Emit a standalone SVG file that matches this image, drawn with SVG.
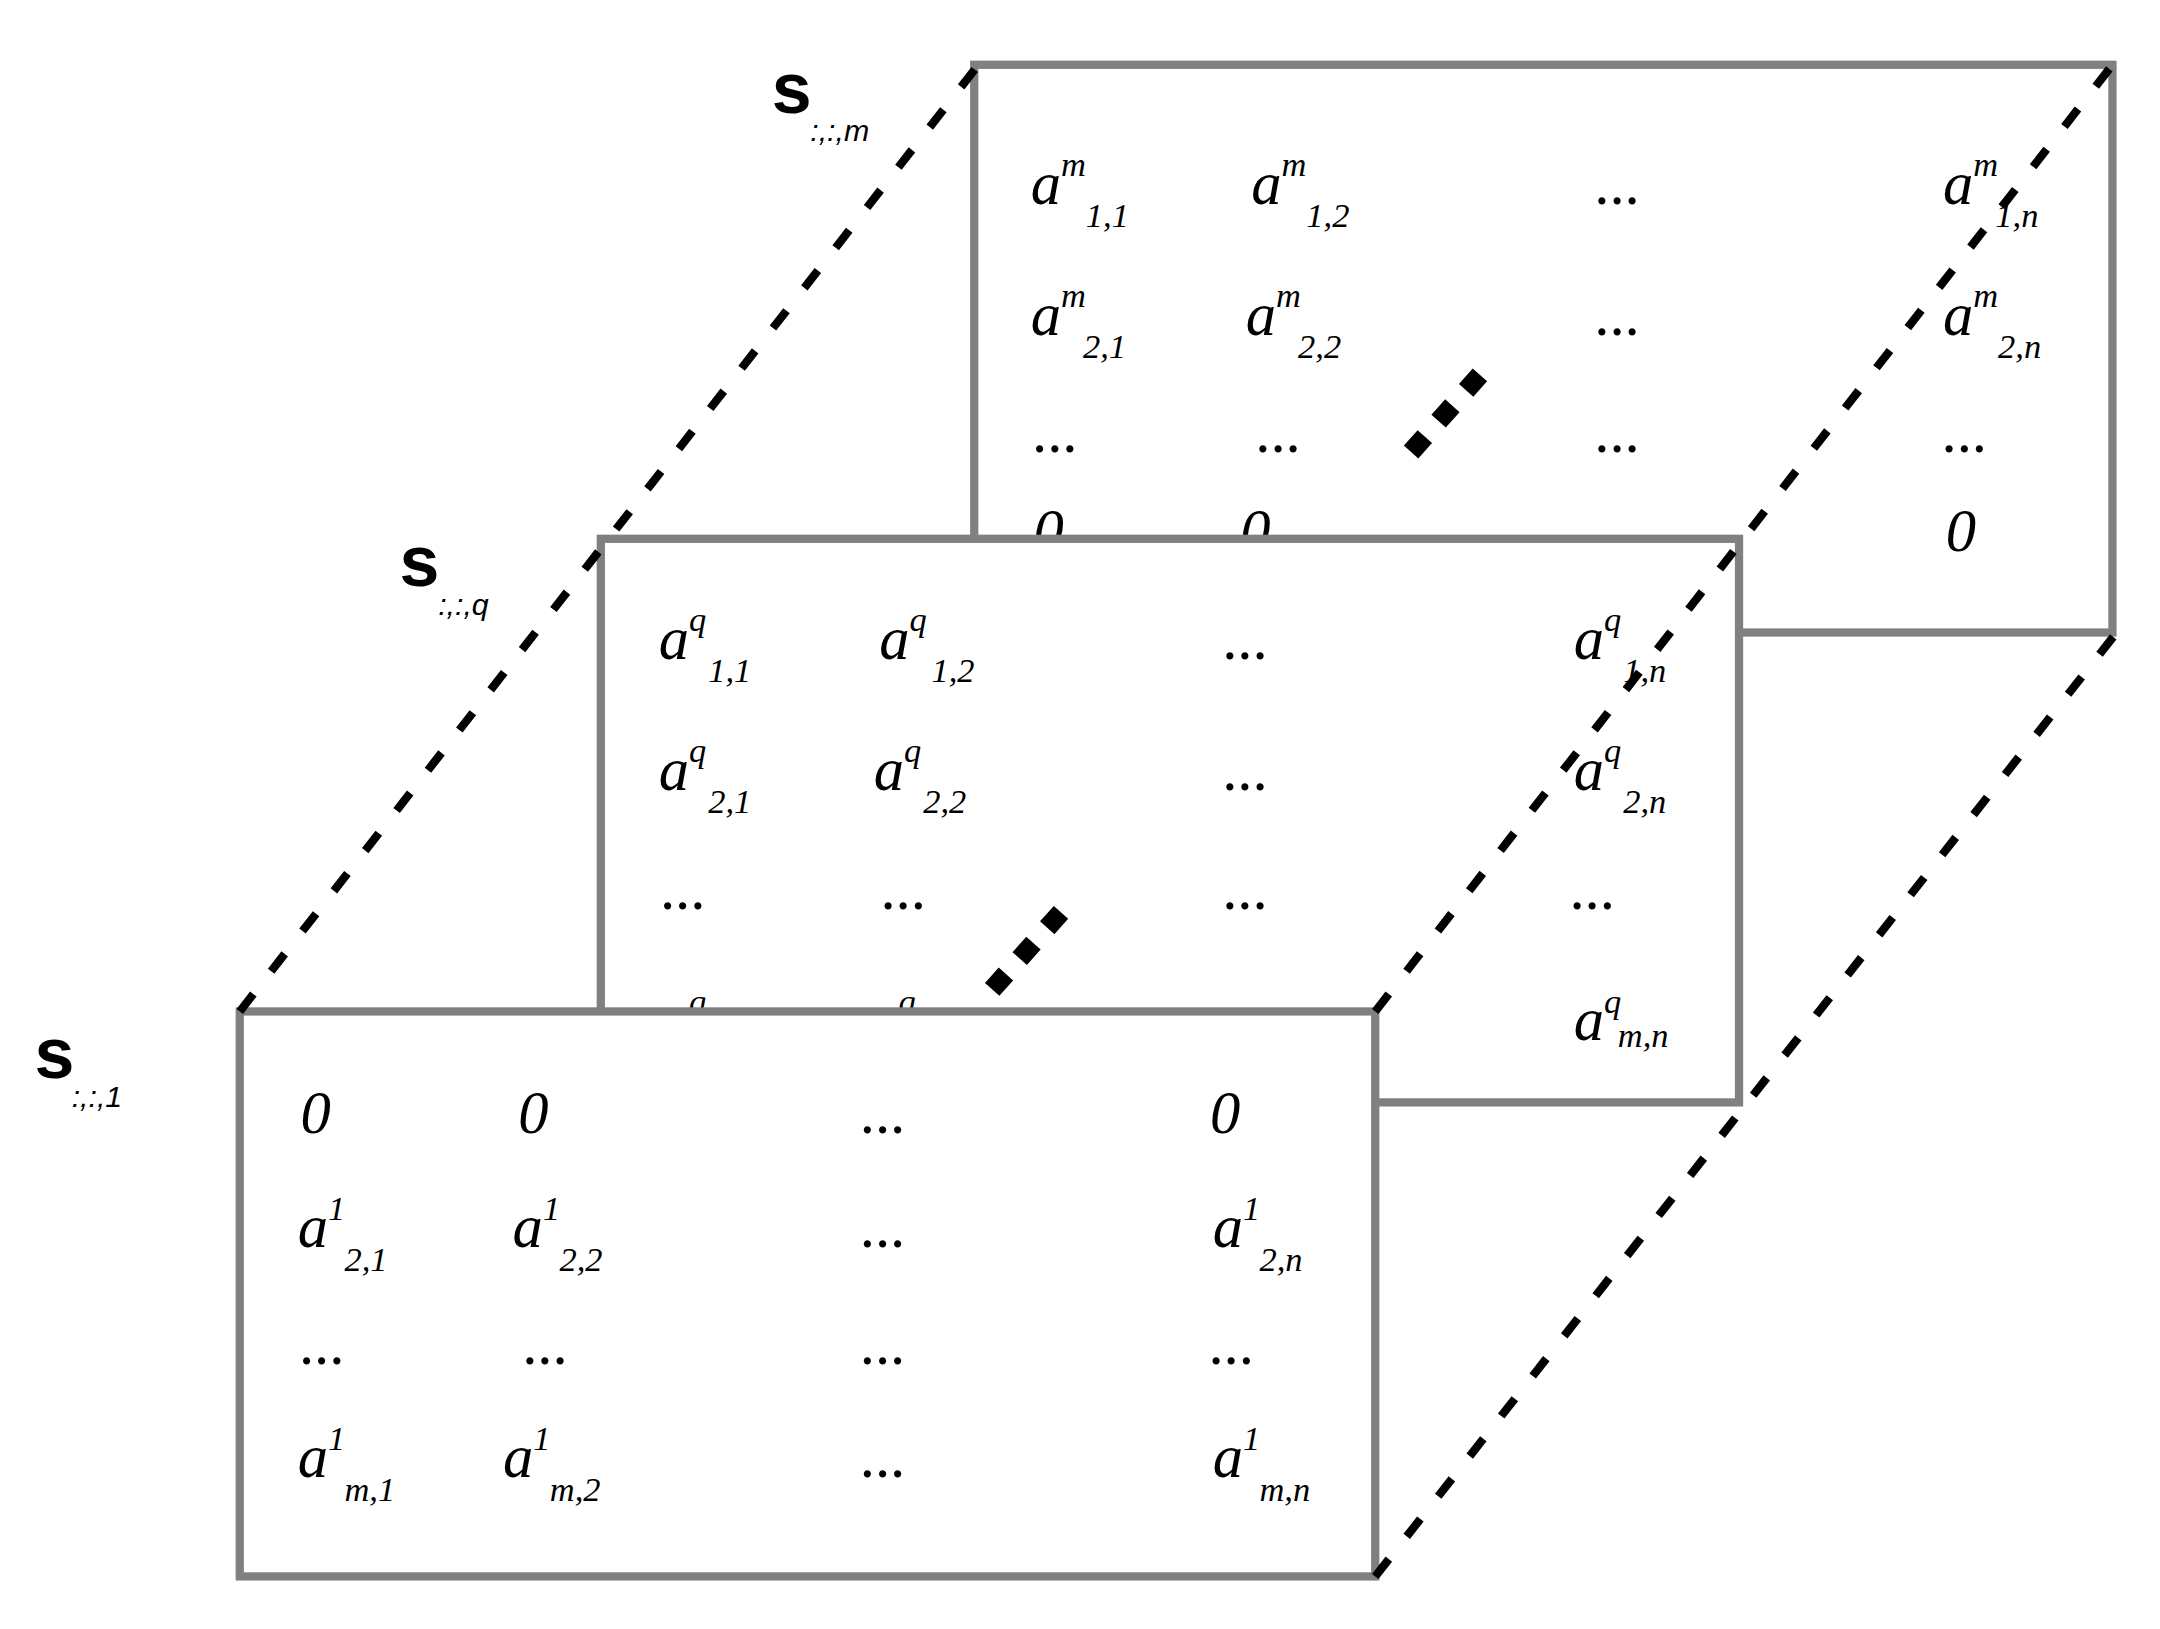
<svg xmlns="http://www.w3.org/2000/svg" width="2160" height="1629" viewBox="0 0 2160 1629">
<style>
.box{fill:#fff;stroke:#808080;stroke-width:6}
.d{stroke:#000;stroke-width:6;stroke-dasharray:16 21;fill:none}
.dd{stroke:#000;stroke-width:14;stroke-dasharray:15 15;fill:none}
text{font-family:"Liberation Serif","Times New Roman",serif;font-style:italic;fill:#000}
.a{font-size:44px}
.s{font-size:25px}
.lb{font-family:"Liberation Sans",Arial,sans-serif;font-style:normal;font-weight:bold;font-size:52px}
.ls{font-family:"Liberation Sans",Arial,sans-serif;font-size:22px}
</style>
<rect width="2160" height="1629" fill="#fff"/>
<g transform="scale(1.378)">
<g id="slice-m">
<rect class="box" x="707" y="47" width="826" height="412"/>
<text class="a" x="748" y="148">a</text><text class="s" x="770" y="128">m</text><text class="s" x="788" y="165">1,1</text>
<text class="a" x="908" y="148">a</text><text class="s" x="930" y="128">m</text><text class="s" x="948" y="165">1,2</text>
<text class="a" x="1158" y="148">...</text>
<text class="a" x="1410" y="148">a</text><text class="s" x="1432" y="128">m</text><text class="s" x="1448" y="165">1,n</text>
<text class="a" x="748" y="243">a</text><text class="s" x="770" y="223">m</text><text class="s" x="786" y="260">2,1</text>
<text class="a" x="904" y="243">a</text><text class="s" x="926" y="223">m</text><text class="s" x="942" y="260">2,2</text>
<text class="a" x="1158" y="243">...</text>
<text class="a" x="1410" y="243">a</text><text class="s" x="1432" y="223">m</text><text class="s" x="1450" y="260">2,n</text>
<text class="a" x="750" y="328">...</text><text class="a" x="912" y="328">...</text><text class="a" x="1158" y="328">...</text><text class="a" x="1410" y="328">...</text>
<text class="a" x="750" y="400">0</text><text class="a" x="900" y="400">0</text><text class="a" x="1412" y="400">0</text>
</g>
<g id="slice-q">
<rect class="box" x="436" y="391" width="826" height="409"/>
<text class="a" x="478" y="478">a</text><text class="s" x="500" y="458">q</text><text class="s" x="514" y="495">1,1</text>
<text class="a" x="638" y="478">a</text><text class="s" x="660" y="458">q</text><text class="s" x="676" y="495">1,2</text>
<text class="a" x="888" y="478">...</text>
<text class="a" x="1142" y="478">a</text><text class="s" x="1164" y="458">q</text><text class="s" x="1178" y="495">1,n</text>
<text class="a" x="478" y="573">a</text><text class="s" x="500" y="553">q</text><text class="s" x="514" y="590">2,1</text>
<text class="a" x="634" y="573">a</text><text class="s" x="656" y="553">q</text><text class="s" x="670" y="590">2,2</text>
<text class="a" x="888" y="573">...</text>
<text class="a" x="1142" y="573">a</text><text class="s" x="1164" y="553">q</text><text class="s" x="1178" y="590">2,n</text>
<text class="a" x="480" y="660">...</text><text class="a" x="640" y="660">...</text><text class="a" x="888" y="660">...</text><text class="a" x="1140" y="660">...</text>
<text class="a" x="478" y="755">a</text><text class="s" x="500" y="735">q</text>
<text class="a" x="630" y="755">a</text><text class="s" x="652" y="735">q</text>
<text class="a" x="1142" y="755">a</text><text class="s" x="1164" y="735">q</text><text class="s" x="1174" y="760">m,n</text>
</g>
<g id="slice-1">
<rect class="box" x="174" y="734" width="824" height="410"/>
<text class="a" x="218" y="822">0</text><text class="a" x="376" y="822">0</text><text class="a" x="625" y="822">...</text><text class="a" x="878" y="822">0</text>
<text class="a" x="216" y="905">a</text><text class="s" x="238" y="885">1</text><text class="s" x="250" y="922">2,1</text>
<text class="a" x="372" y="905">a</text><text class="s" x="394" y="885">1</text><text class="s" x="406" y="922">2,2</text>
<text class="a" x="625" y="905">...</text>
<text class="a" x="880" y="905">a</text><text class="s" x="902" y="885">1</text><text class="s" x="914" y="922">2,n</text>
<text class="a" x="218" y="990">...</text><text class="a" x="380" y="990">...</text><text class="a" x="625" y="990">...</text><text class="a" x="878" y="990">...</text>
<text class="a" x="216" y="1072">a</text><text class="s" x="238" y="1052">1</text><text class="s" x="250" y="1089">m,1</text>
<text class="a" x="365" y="1072">a</text><text class="s" x="387" y="1052">1</text><text class="s" x="399" y="1089">m,2</text>
<text class="a" x="625" y="1072">...</text>
<text class="a" x="880" y="1072">a</text><text class="s" x="902" y="1052">1</text><text class="s" x="914" y="1089">m,n</text>
</g>
<g id="labels">
<text class="lb" x="560" y="82">s</text><text class="ls" x="588" y="102">:,:,m</text>
<text class="lb" x="290" y="425">s</text><text class="ls" x="318" y="446">:,:,q</text>
<text class="lb" x="25" y="782">s</text><text class="ls" x="52" y="803">:,:,1</text>
</g>
<g id="connectors">
<line class="d" x1="174" y1="734" x2="710" y2="47"/>
<line class="d" x1="998" y1="734" x2="1533" y2="47"/>
<line class="d" x1="998" y1="1144" x2="1536" y2="459"/>
<line class="dd" x1="1024" y1="328" x2="1074" y2="272"/>
<line class="dd" x1="720" y1="718" x2="770" y2="662"/>
</g>
</g>
</svg>
